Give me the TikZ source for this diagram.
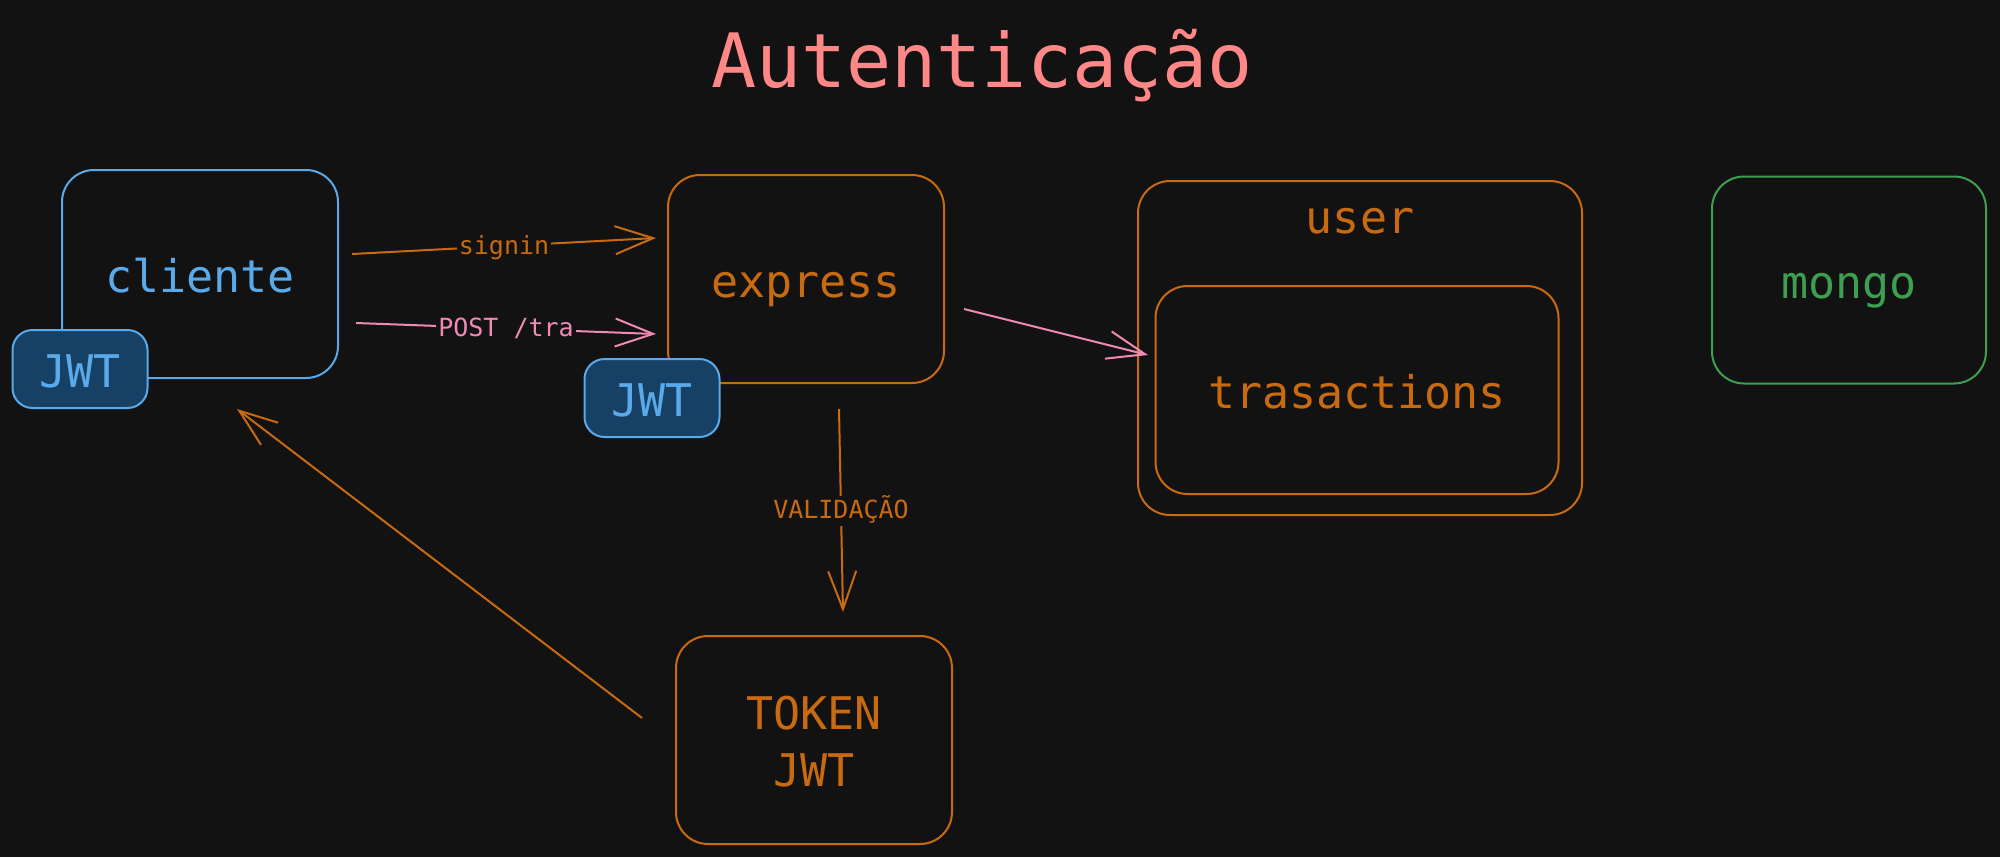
\documentclass[tikz,border=0pt]{standalone}
\usepackage{fontspec}
\setmainfont{DejaVu Sans Mono}
\usetikzlibrary{arrows.meta,calc}
\definecolor{bg}{HTML}{121212}
\definecolor{orng}{HTML}{C86A10}
\definecolor{blu}{HTML}{5AAAEB}
\definecolor{jwtfill}{HTML}{164164}
\definecolor{pnk}{HTML}{F08AB4}
\definecolor{ttl}{HTML}{FF8787}
\definecolor{grn}{HTML}{3CA050}
\begin{document}
\begin{tikzpicture}[x=1pt,y=-1pt,
  box/.style={draw, line width=2pt, rounded corners=32pt, inner sep=0pt, fill=bg,
    minimum width=276pt, minimum height=208pt,
    font=\fontsize{45}{57}\selectfont, text height=38pt, text depth=2pt},
  jwtbox/.style={box, draw=blu, fill=jwtfill, text=blu, rounded corners=20pt,
    minimum width=135pt, minimum height=78pt},
  txt/.style={inner sep=0pt, font=\fontsize{45}{57}\selectfont},
  conn/.style={line width=2pt, -{Straight Barb[length=38pt,width=28pt]}},
  lbl/.style={fill=bg, inner xsep=2pt, inner ysep=6pt, font=\fontsize{25}{30}\selectfont,
    text height=17pt, text depth=1pt}
]
\fill[bg] (0,0) rectangle (2000,857);
\useasboundingbox (0,0) rectangle (2000,857);

% title
\node[text=ttl, font=\fontsize{75}{90}\selectfont, inner sep=0pt, anchor=base] (title) at (982,87) {Autenticação};

% boxes
\node[box, draw=blu, text=blu] (cliente) at (200,274) {cliente};
\node[jwtbox] (jwtc) at (80,369) {JWT};

\node[box, draw=orng, text=orng] (express) at (806,279) {express};
\node[jwtbox] (jwte) at (652,398) {JWT};

\node[box, draw=orng, minimum width=444pt, minimum height=334pt] (user) at (1360,348) {};
\node[txt, text=orng, anchor=base] (userlbl) at (1360,233) {user};
\node[box, draw=orng, text=orng, minimum width=403pt, minimum height=208pt] (trans) at (1357,390) {trasactions};

\node[box, draw=grn, text=grn, minimum width=274pt, minimum height=207pt] (mongo) at (1849,280) {mongo};

\node[box, draw=orng] (token) at (814,740) {};
\node[txt, text=orng, anchor=base] (tokenA) at ($(token.center)+(0,-11)$) {TOKEN};
\node[txt, text=orng, anchor=base] (tokenB) at ($(token.center)+(0,46)$) {JWT};

% connector end points
\coordinate (s1) at ($(cliente.east)+(13,-20)$);
\coordinate (s2) at ($(express.west)+(-11,-41)$);
\coordinate (p1) at ($(cliente.east)+(17,49)$);
\coordinate (p2) at ($(express.west)+(-11,55)$);
\coordinate (u1) at ($(express.east)+(19,30)$);
\coordinate (u2) at ($(user.west)+(11,7)$);
\coordinate (v1) at ($(express.south)+(33,25)$);
\coordinate (v2) at ($(token.north)+(29,-23)$);
\coordinate (t1) at ($(token.west)+(-33,-22)$);
\coordinate (t2) at ($(cliente.south)+(37,30)$);

% connectors
\draw[conn, orng] (s1) -- node[lbl, text=orng] (signin) {signin} (s2);
\draw[conn, pnk] (p1) -- node[lbl, text=pnk] (post) {POST /tra} (p2);
\draw[conn, pnk] (u1) -- (u2);
\draw[conn, orng] (v1) -- node[lbl, text=orng] (valid) {VALIDAÇÃO} (v2);
\draw[conn, orng] (t1) -- (t2);
\end{tikzpicture}
\end{document}
